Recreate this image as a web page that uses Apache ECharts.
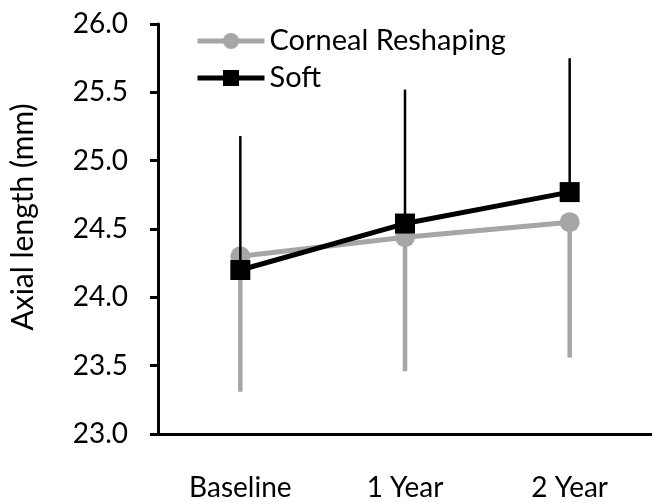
<!DOCTYPE html>
<html>
<head>
<meta charset="utf-8">
<script src="https://cdn.jsdelivr.net/npm/echarts@6/dist/echarts.min.js"></script>
<style>html,body{margin:0;padding:0;background:#fff}#c{width:652px;height:502px}</style>
</head>
<body>
<div id="c"></div>
<script>
var categories = ['Baseline', '1 Year', '2 Year'];
var yTicks = ['23.0','23.5','24.0','24.5','25.0','25.5','26.0'];
var cornealMean = [24.30, 24.44, 24.55];
var cornealLow = [23.31, 23.46, 23.56];
var softMean = [24.20, 24.54, 24.77];
var softHigh = [25.18, 25.52, 25.75];

var FONT = 'Lato';
var GRAY = '#a6a6a6';

function errData(mean, end) {
  return mean.map(function (m, i) { return [i, m, end[i]]; });
}
function errRender(color, width) {
  return function (params, api) {
    var p1 = api.coord([api.value(0), api.value(1)]);
    var p2 = api.coord([api.value(0), api.value(2)]);
    return {
      type: 'line',
      shape: { x1: p1[0], y1: p1[1], x2: p2[0], y2: p2[1] },
      style: { stroke: color, lineWidth: width }
    };
  };
}

var chart = echarts.init(document.getElementById('c'), null, { renderer: 'canvas' });
chart.setOption({
  animation: false,
  backgroundColor: '#fff',
  grid: { left: 154, right: -9, top: 24, bottom: 64, containLabel: false },
  legend: {
    orient: 'vertical',
    left: 190,
    top: 21,
    itemWidth: 67,
    itemHeight: 20,
    itemGap: 7,
    itemTextGap: 6,
    data: ['Corneal Reshaping', 'Soft'],
    lineStyle: { width: 5 },
    textStyle: { fontFamily: FONT, fontSize: 29, color: '#000', lineHeight: 30 }
  },
  xAxis: {
    type: 'category',
    data: categories,
    boundaryGap: true,
    axisLine: { lineStyle: { color: '#000', width: 3 } },
    axisTick: { show: false },
    axisLabel: { fontFamily: FONT, fontSize: 28, color: '#000', margin: 40 },
    splitLine: { show: false }
  },
  yAxis: {
    type: 'value',
    min: 23,
    max: 26,
    interval: 0.5,
    name: 'Axial length (mm)',
    nameLocation: 'middle',
    nameGap: 120,
    nameTextStyle: { fontFamily: FONT, fontSize: 30, color: '#000', padding: [0, 0, 0, 24] },
    axisLine: { show: true, lineStyle: { color: '#000', width: 3 } },
    axisTick: { show: true, length: 8, lineStyle: { color: '#000', width: 3 } },
    axisLabel: {
      fontFamily: FONT, fontSize: 28, color: '#000', margin: 30,
      formatter: function (v) { var s = v.toFixed(1); return yTicks.indexOf(s) >= 0 ? s : ''; }
    },
    splitLine: { show: false }
  },
  series: [
    {
      name: 'Corneal Reshaping err',
      type: 'custom',
      data: errData(cornealMean, cornealLow),
      encode: { x: 0, y: [1, 2] },
      renderItem: errRender(GRAY, 4.5),
      z: 1
    },
    {
      name: 'Corneal Reshaping',
      type: 'line',
      data: cornealMean,
      symbol: 'circle',
      symbolSize: 20,
      lineStyle: { color: GRAY, width: 5 },
      itemStyle: { color: GRAY },
      z: 2
    },
    {
      name: 'Soft err',
      type: 'custom',
      data: errData(softMean, softHigh),
      encode: { x: 0, y: [1, 2] },
      renderItem: errRender('#000', 2.5),
      z: 3
    },
    {
      name: 'Soft',
      type: 'line',
      data: softMean,
      symbol: 'rect',
      symbolSize: 20,
      lineStyle: { color: '#000', width: 5 },
      itemStyle: { color: '#000' },
      z: 4
    }
  ]
});
</script>
</body>
</html>
